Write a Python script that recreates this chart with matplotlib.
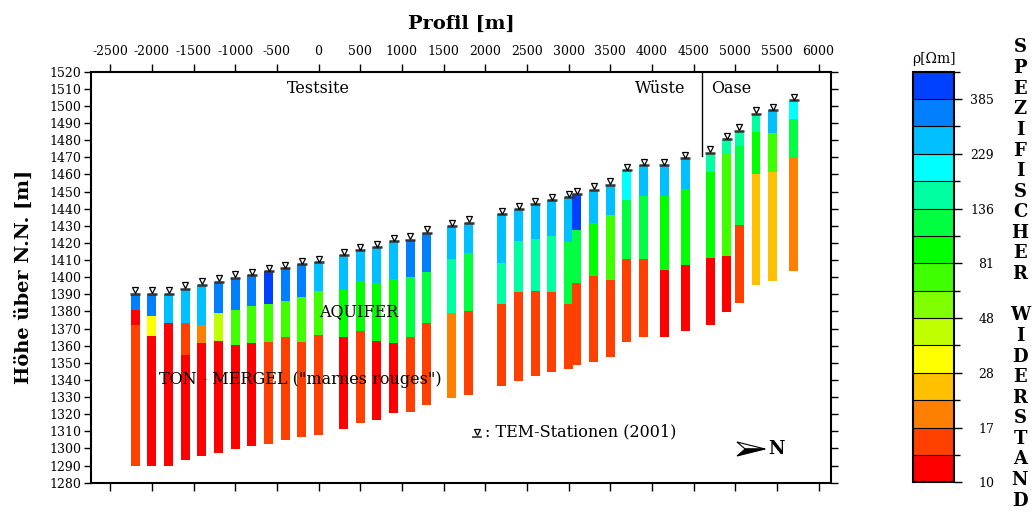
import matplotlib
matplotlib.use('Agg')
import matplotlib.pyplot as plt
import numpy as np
from matplotlib.colors import ListedColormap, BoundaryNorm
from matplotlib.cm import ScalarMappable
from matplotlib.transforms import offset_copy
from matplotlib.patches import Polygon

plt.rcParams['font.family'] = ['DejaVu Serif', 'DejaVu Sans']
plt.rcParams['axes.unicode_minus'] = False

# resistivity classes (colour bands, low -> high)
class_colors = ['#ff0000', '#ff4000', '#ff8000', '#ffc000', '#ffff00',
                '#c0ff00', '#80ff00', '#40ff00', '#00ff00', '#00ff40',
                '#00ffa0', '#00ffff', '#00c0ff', '#0080ff', '#0040ff']
cbar_tick_labels = ['10', '17', '28', '48', '81', '136', '229', '385']

# TEM stations: profile position [m] and surface elevation [m]
station_x = [-2200, -2000, -1800, -1600, -1400, -1200, -1000, -800, -600, -400,
             -200, 0, 300, 500, 700, 900, 1100, 1300, 1600, 1800,
             2200, 2400, 2600, 2800, 3000, 3100, 3300, 3500, 3700, 3900,
             4150, 4400, 4700, 4900, 5050, 5250, 5450, 5700]
station_top = [1390.2, 1390.2, 1390.2, 1393.3, 1395.4, 1397.4, 1399.7, 1401.2, 1403.4, 1405.3,
               1407.5, 1408.8, 1412.7, 1415.6, 1417.4, 1420.9, 1421.7, 1425.8, 1429.8, 1431.6,
               1436.8, 1439.6, 1442.5, 1445.0, 1446.6, 1448.5, 1451.1, 1453.8, 1462.5, 1465.3,
               1465.3, 1469.5, 1472.5, 1480.6, 1485.5, 1495.4, 1497.5, 1503.2]
# base elevation of each layer (top -> bottom)
layer_base = [
    [1381.0, 1372.3, 1290.0], [1377.5, 1365.4, 1290.0], [1373.4, 1290.0],
    [1373.4, 1354.4, 1293.1], [1372.3, 1361.8, 1295.4], [1379.3, 1362.9, 1297.2],
    [1381.0, 1360.6, 1299.5], [1383.3, 1361.8, 1301.2], [1384.5, 1362.3, 1302.8],
    [1386.3, 1365.3, 1305.2], [1388.6, 1362.3, 1306.9], [1392.1, 1366.4, 1308.1],
    [1392.3, 1365.3, 1311.6], [1397.6, 1368.8, 1315.1], [1396.4, 1362.9, 1316.8],
    [1398.7, 1361.8, 1320.5], [1399.9, 1365.3, 1321.1], [1402.8, 1373.4, 1325.2],
    [1410.8, 1379.1, 1329.3], [1413.9, 1380.4, 1331.0], [1408.4, 1384.5, 1336.3],
    [1421.3, 1391.5, 1339.2], [1422.5, 1392.1, 1342.1], [1424.2, 1391.5, 1344.4],
    [1420.7, 1384.4, 1346.2], [1427.7, 1396.8, 1348.5], [1431.8, 1400.9, 1350.3],
    [1436.5, 1398.5, 1353.2], [1445.2, 1410.8, 1362.3], [1447.5, 1410.8, 1365.3],
    [1447.5, 1404.4, 1365.3], [1451.6, 1407.3, 1368.8], [1461.6, 1411.4, 1372.3],
    [1472.5, 1412.5, 1379.8], [1476.7, 1430.6, 1385.1], [1484.9, 1460.4, 1395.2],
    [1484.3, 1461.6, 1397.5], [1492.5, 1469.7, 1403.4]]
# resistivity class of each layer (index into class_colors)
layer_class = [
    [13, 0, 1], [13, 4, 0], [12, 0],
    [12, 1, 0], [12, 2, 0], [13, 5, 0],
    [13, 7, 0], [13, 7, 0], [14, 7, 1],
    [13, 7, 1], [13, 7, 1], [12, 7, 1],
    [12, 8, 0], [12, 8, 1], [12, 8, 0],
    [12, 8, 0], [13, 9, 1], [13, 9, 1],
    [12, 10, 2], [12, 9, 1], [12, 10, 1],
    [12, 10, 1], [12, 10, 1], [12, 10, 1],
    [12, 9, 1], [14, 9, 1], [12, 8, 1],
    [12, 7, 1], [11, 9, 1], [12, 9, 1],
    [12, 8, 0], [12, 8, 0], [10, 8, 0],
    [10, 7, 0], [10, 9, 1], [10, 8, 3],
    [12, 7, 3], [11, 9, 2]]

W, H = 1033, 512
fig = plt.figure(figsize=(W / 100, H / 100), dpi=100)
ax = fig.add_axes([91 / W, 1 - 482.7 / H, 740 / W, 411 / H])

cmap = ListedColormap(class_colors)
for x, top, bases, classes in zip(station_x, station_top, layer_base, layer_class):
    upper = top
    for base, c in zip(bases, classes):
        ax.bar(x, upper - base, bottom=base, width=105, color=class_colors[c],
               linewidth=0, zorder=2)
        upper = base

# station markers
ax.plot(station_x, station_top, ls='none', marker='_', ms=7, mew=1.8,
        color='#333333', zorder=4)
tri_tr = offset_copy(ax.transData, fig=fig, y=2.6, units='points')
ax.plot(station_x, station_top, ls='none', marker='v', ms=5, mfc='white',
        mec='black', mew=0.9, transform=tri_tr, zorder=5)

ax.set_xlim(-2730, 6150)
ax.set_ylim(1280, 1520)
ax.set_xticks(np.arange(-2500, 6001, 500))
ax.set_yticks(np.arange(1280, 1521, 10))
ax.tick_params(axis='x', top=True, labeltop=True, bottom=True, labelbottom=False,
               direction='out', length=6, width=1, labelsize=9, pad=4)
ax.tick_params(axis='y', left=True, right=True, labelleft=True, labelright=False,
               direction='out', length=5, width=1, labelsize=9, pad=2)
for s in ax.spines.values():
    s.set_linewidth(1.5)

ax.set_title('Profil [m]', fontsize=14, fontweight='bold', pad=31)
ax.set_ylabel('Höhe über N.N. [m]', fontsize=14, fontweight='bold', labelpad=12)

# region annotations
ax.plot([4600, 4600], [1520, 1470.5], color='black', lw=1, zorder=3)
ax.text(0, 1510.3, 'Testsite', ha='center', va='center', fontsize=11.5)
ax.text(4096, 1510.3, 'Wüste', ha='center', va='center', fontsize=11.5)
ax.text(4949, 1510.3, 'Oase', ha='center', va='center', fontsize=11.5)
ax.text(488, 1379.8, 'AQUIFER', ha='center', va='center', fontsize=11.5, zorder=6)
ax.text(-1912, 1340.2, 'TON - MERGEL ("marnes rouges")', ha='left', va='center',
        fontsize=11.5, zorder=6)

# legend for station symbol
ax.plot([0.5216], [0.112], transform=ax.transAxes, ls='none', marker='_', ms=7,
        mew=1.2, color='#333333')
ax.plot([0.5216], [0.123], transform=ax.transAxes, ls='none', marker='v', ms=5,
        mfc='white', mec='black', mew=0.9)
ax.text(0.532, 0.123, ': TEM-Stationen (2001)', transform=ax.transAxes,
        ha='left', va='center', fontsize=11.5)

# north arrow
ax.add_patch(Polygon([[0.873, 0.099], [0.911, 0.082], [0.884, 0.082]], closed=True,
                     facecolor='white', edgecolor='black', lw=0.8,
                     transform=ax.transAxes, zorder=6))
ax.add_patch(Polygon([[0.873, 0.065], [0.911, 0.082], [0.884, 0.082]], closed=True,
                     facecolor='black', edgecolor='black', lw=0.8,
                     transform=ax.transAxes, zorder=6))
ax.text(0.926, 0.082, 'N', transform=ax.transAxes, ha='center', va='center',
        fontsize=13, fontweight='bold')

# colour bar
cax = fig.add_axes([913 / W, 1 - 482.3 / H, 41 / W, 410.6 / H])
norm = BoundaryNorm(np.arange(len(class_colors) + 1), len(class_colors))
cb = fig.colorbar(ScalarMappable(norm=norm, cmap=cmap), cax=cax, drawedges=True,
                  ticks=np.arange(0, len(class_colors), 2))
cb.ax.set_yticklabels(cbar_tick_labels)
cb.outline.set_linewidth(1.5)
cb.dividers.set_linewidth(0.8)
cb.ax.yaxis.set_ticks(np.arange(1, len(class_colors) + 1, 2), minor=True)
cb.ax.tick_params(which='major', length=6, width=1, labelsize=9, pad=23)
cb.ax.tick_params(which='minor', length=4, width=1)
for lab in cb.ax.get_yticklabels():
    lab.set_horizontalalignment('right')
fig.text(934 / W, 1 - 59 / H, 'ρ[Ωm]', ha='center', va='center', fontsize=10)

# vertical label
for i, ch in enumerate('SPEZIFISCHER WIDERSTAND'):
    fig.text(1020 / W, 1 - (47.5 + i * 20.6) / H, ch, ha='center', va='center',
             fontsize=13, fontweight='bold')

fig.savefig('out.png', dpi=100)
